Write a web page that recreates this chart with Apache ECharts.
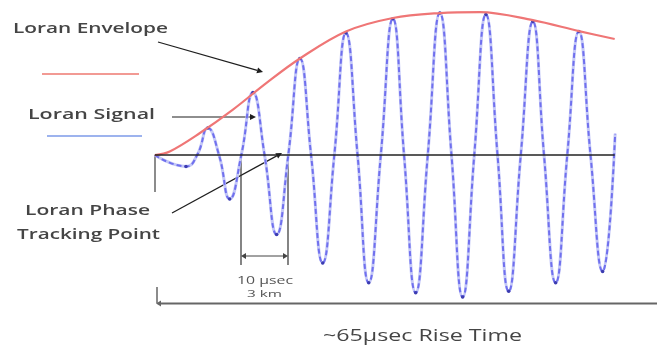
<!DOCTYPE html>
<html><head><meta charset="utf-8">
<script src="https://cdn.jsdelivr.net/npm/echarts@6/dist/echarts.min.js"></script>
<style>html,body{margin:0;padding:0;background:#fff}#c{width:657px;height:347px}</style>
</head><body><div id="c"></div>
<script>
// Time in microseconds, amplitude in % of the pulse peak
const signalTimeUs = [0, 6.7, 9.1, 11.4, 13.8, 16.1, 18.6, 21.1, 23.6, 26.2, 28.7, 31.2, 33.6, 36.1, 38.6, 41.1, 43.6, 46.0, 48.6, 51.2, 53.6, 56.1, 58.7, 61.3, 63.8, 66.2, 68.7, 71.2, 73.7, 76.1, 78.7, 81.3, 83.7, 86.2, 88.7, 91.2, 93.7, 96.3, 99.0];
const signalAmp    = [0, -8, 0, 19, 0, -31, 0, 44, 0, -56, 0, 68, 0, -76, 0, 86, 0, -90, 0, 96, 0, -97, 0, 100, 0, -100, 0, 99, 0, -96, 0, 94, 0, -90, 0, 87, 0, -82, 15];
const envelopeTimeUs = [0, 3.2, 9.7, 16.8, 24.1, 31.2, 41.1, 51.2, 61.3, 69.9, 81.3, 91.2, 98.9];
const envelopeAmp    = [0, 2.5, 15.5, 32, 51, 68, 87, 96.5, 100, 100.7, 95, 87.3, 81.7];
const baselineTimeUs = [0, 98.9];
const baselineAmp    = [0, 0];
const txtEnvelope = 'Loran Envelope';
const txtSignal = 'Loran Signal';
const txtPhase1 = 'Loran Phase';
const txtPhase2 = 'Tracking Point';
const txtPeriod = '10 μsec';
const txtDist = '3 km';
const txtRise = '~65μsec Rise Time';

const chart = echarts.init(document.getElementById('c'), null, {renderer: 'canvas'});

const mctx = document.createElement('canvas').getContext('2d');
function label(text, left, right, midY, size, weight, color) {
  const ff = 'Open Sans';
  mctx.font = weight + ' ' + size + 'px "' + ff + '"';
  const w = mctx.measureText(text).width;
  return { type: 'text', x: left, y: midY, scaleX: (right - left) / w, silent: true,
    style: { text: text, fontSize: size, fontFamily: ff, fontWeight: weight, fill: color, align: 'left', verticalAlign: 'middle' } };
}
function seg(x1, y1, x2, y2, color, w) {
  return { type: 'line', silent: true, shape: { x1: x1, y1: y1, x2: x2, y2: y2 }, style: { stroke: color, lineWidth: w } };
}
function arrow(x1, y1, x2, y2, color, w, hl, hw) {
  hl = hl || 6; hw = hw || 3;
  const dx = x2 - x1, dy = y2 - y1, L = Math.hypot(dx, dy), ux = dx / L, uy = dy / L;
  const bx = x2 - ux * hl, by = y2 - uy * hl;
  return [seg(x1, y1, bx, by, color, w),
    { type: 'polygon', silent: true, shape: { points: [[x2, y2], [bx - uy * hw, by + ux * hw], [bx + uy * hw, by - ux * hw]] }, style: { fill: color } }];
}

const lastIdx = signalTimeUs.length - 1;
const signalData = signalTimeUs.map(function (t, i) {
  const v = signalAmp[i];
  return (v === 0 || i === lastIdx) ? { value: [t, v], symbol: 'none' } : { value: [t, v] };
});

const textColor = '#454545';
const graphics = [].concat(
  label(txtEnvelope, 13, 168, 29, 15, 600, textColor),
  label(txtSignal, 28, 155, 115, 15, 600, textColor),
  label(txtPhase1, 25, 150, 211, 15, 600, textColor),
  label(txtPhase2, 17, 160, 235, 15, 600, textColor),
  label(txtPeriod, 237, 293, 281, 10, 400, '#555'),
  label(txtDist, 247, 282, 294, 9, 400, '#555'),
  label(txtRise, 323, 522, 336, 17, 500, textColor),
  seg(42, 74, 139, 74, '#f29a94', 2),
  seg(47, 136, 142, 136, '#9db3ee', 2),
  arrow(158, 42, 263, 72, '#1e1e1e', 1.2),
  arrow(172, 117, 256, 117, '#1e1e1e', 1.2),
  arrow(172, 213, 282, 153, '#1e1e1e', 1.2),
  seg(155, 155, 155, 192, '#666', 1.5),
  seg(157, 287, 157, 303, '#666', 1.5),
  arrow(657, 303.5, 156, 303.5, '#666', 2, 5, 3),
  seg(241, 155, 241, 265, '#333', 1.2),
  seg(288, 155, 288, 265, '#333', 1.2),
  arrow(264, 256, 241, 256, '#444', 1, 5, 3),
  arrow(264, 256, 288, 256, '#444', 1, 5, 3)
);

const sigPairs = signalData;
chart.setOption({
  animation: false,
  backgroundColor: '#fff',
  grid: { left: 0, right: 0, top: 0, bottom: 0 },
  xAxis: { type: 'value', min: -33.3, max: 108, show: false },
  yAxis: { type: 'value', min: -135.2, max: 109.2, show: false },
  series: [
    { type: 'line', data: envelopeTimeUs.map(function (t, i) { return [t, envelopeAmp[i]]; }),
      smooth: 0.35, symbol: 'none', lineStyle: { color: '#ef7676', width: 2.2 }, z: 3 },
    { type: 'line', data: sigPairs, smooth: 0.5, symbol: 'none',
      lineStyle: { color: '#c4c8f7', width: 3 }, z: 1 },
    { type: 'line', data: sigPairs, smooth: 0.5, symbol: 'circle', symbolSize: 3.5, showSymbol: true,
      itemStyle: { color: '#3c3cb0' }, lineStyle: { color: '#7070ee', width: 2, type: [5, 3] }, z: 2 },
    { type: 'line', data: baselineTimeUs.map(function (t, i) { return [t, baselineAmp[i]]; }),
      symbol: 'none', lineStyle: { color: '#222', width: 1.5 }, z: 4 }
  ],
  graphic: graphics
});
</script></body></html>
